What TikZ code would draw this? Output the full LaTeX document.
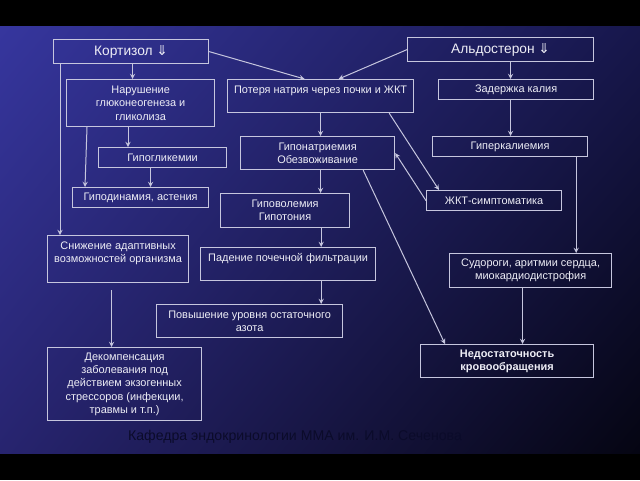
\documentclass[tikz,border=0pt]{standalone}
\usepackage{fontspec}
\setmainfont{Liberation Sans}
\newfontfamily\symfont{DejaVu Sans}
\usepackage{xcolor}
\usetikzlibrary{shapes,arrows,positioning,shadings}

\newdimen\pxu \pxu=0.75pt
\newcommand{\dnarr}{{\symfont\char"21D3}}
\definecolor{boxline}{HTML}{C6C6DE}
\definecolor{boxtext}{HTML}{EEEEF6}
\definecolor{deptcol}{HTML}{0B0B2A}
\definecolor{bgul}{HTML}{36369E}
\definecolor{bgur}{HTML}{17174C}
\definecolor{bgll}{HTML}{27246F}
\definecolor{bglr}{HTML}{050512}

\begin{document}
\begin{tikzpicture}[
    x=0.75pt, y=-0.75pt,
    box/.style={rectangle, draw=boxline, line width=0.9pt, anchor=north west, align=center,
                inner sep=1pt, text=boxtext, font=\fontsize{8.2}{10}\selectfont},
    head/.style={box, font=\fontsize{10.3}{12}\selectfont},
    arrow/.style={->, >=stealth, draw=boxline, line width=0.75pt},
    dept/.style={text=deptcol, font=\fontsize{10.6}{12}\selectfont}
]
    \useasboundingbox (0,0) rectangle (640,480);
    \fill[black] (0,0) rectangle (640,480);
    \shade[upper left=bgul, upper right=bgur, lower left=bgll, lower right=bglr] (0,26) rectangle (640,453);

    % hormones
    \node[head, minimum width=155\pxu, minimum height=24\pxu] (kort) at (53,39) {Кортизол \dnarr};
    \node[head, minimum width=186\pxu, minimum height=24\pxu] (aldo) at (407,37) {Альдостерон \dnarr};

    \node[box, minimum width=148\pxu, minimum height=47\pxu] (nar) at (66,79) {Нарушение\\глюконеогенеза и\\гликолиза};
    \node[box, minimum width=186\pxu, minimum height=33\pxu] (loss) at (227,79) {Потеря натрия через почки и ЖКТ\\ \mbox{}};
    \node[box, minimum width=155\pxu, minimum height=20\pxu] (kal) at (438,79) {Задержка калия};
    \node[box, minimum width=128\pxu, minimum height=20\pxu] (gipogl) at (98,147) {Гипогликемии};
    \node[box, minimum width=154\pxu, minimum height=33\pxu] (natr) at (240,136) {Гипонатриемия\\Обезвоживание};
    \node[box, minimum width=155\pxu, minimum height=20\pxu] (hyperk) at (432,136) {Гиперкалиемия};
    \node[box, minimum width=136\pxu, minimum height=20\pxu] (gipodin) at (72,187) {Гиподинамия, астения};
    \node[box, minimum width=129\pxu, minimum height=34\pxu] (vol) at (220,193) {Гиповолемия\\Гипотония};
    \node[box, minimum width=135\pxu, minimum height=20\pxu] (zkt) at (426,190) {ЖКТ-симптоматика};
    \node[box, minimum width=141\pxu, minimum height=47\pxu] (snizh) at (47,235) {Снижение адаптивных\\возможностей организма\\ \mbox{}};
    \node[box, minimum width=175\pxu, minimum height=33\pxu] (pad) at (200,247) {Падение почечной фильтрации\\ \mbox{}};
    \node[box, minimum width=162\pxu, minimum height=34\pxu] (sudor) at (449,253) {Судороги, аритмии сердца,\\миокардиодистрофия};
    \node[box, minimum width=186\pxu, minimum height=33\pxu] (povysh) at (156,304) {Повышение уровня остаточного\\азота};
    \node[box, minimum width=154\pxu, minimum height=73\pxu] (dekomp) at (47,347) {Декомпенсация\\заболевания под\\действием экзогенных\\стрессоров (инфекции,\\травмы и т.п.)};
    \node[box, minimum width=173\pxu, minimum height=33\pxu, font=\fontsize{8.2}{10}\selectfont\bfseries] (nedost) at (420,344) {Недостаточность\\кровообращения};

    \node[dept] (kaf) at (295,437) {Кафедра эндокринологии ММА им. И.М. Сеченова};

    % cortisol branch
    \draw[arrow] (kort.east) -- ([xshift=-16\pxu]loss.north);
    \draw[arrow] ([xshift=1.5\pxu]kort.south) -- ([xshift=1.5\pxu]kort.south |- nar.north);
    \draw[arrow] ([xshift=7\pxu]kort.south west) -- ([xshift=7\pxu]kort.south west |- snizh.north);
    \draw[arrow] ([xshift=62\pxu]nar.south west) -- ([xshift=62\pxu]nar.south west |- gipogl.north);
    \draw[arrow] ([xshift=21\pxu]nar.south west) -- ([xshift=13\pxu]gipodin.north west);
    \draw[arrow] ([xshift=-12\pxu]gipogl.south) -- ([xshift=-12\pxu]gipogl.south |- gipodin.north);
    \draw[arrow, shorten <=7\pxu] ([xshift=-6.5\pxu]snizh.south) -- ([xshift=-6.5\pxu]snizh.south |- dekomp.north);

    % sodium branch
    \draw[arrow] (aldo.west) -- ([xshift=18\pxu]loss.north);
    \draw[arrow] (loss.south) -- (loss.south |- natr.north);
    \draw[arrow] ([xshift=-25\pxu]loss.south east) -- ([xshift=13\pxu]zkt.north west);
    \draw[arrow] (zkt.west) -- (natr.east);
    \draw[arrow] ([xshift=3\pxu]natr.south) -- ([xshift=3\pxu]natr.south |- vol.north);
    \draw[arrow] ([xshift=-32\pxu]natr.south east) -- ([xshift=25\pxu]nedost.north west);
    \draw[arrow] ([xshift=-29\pxu]vol.south east) -- ([xshift=-29\pxu]vol.south east |- pad.north);
    \draw[arrow] ([xshift=-55\pxu]pad.south east) -- ([xshift=-55\pxu]pad.south east |- povysh.north);

    % potassium branch
    \draw[arrow] ([xshift=10\pxu]aldo.south) -- ([xshift=10\pxu]aldo.south |- kal.north);
    \draw[arrow] ([xshift=-5.5\pxu]kal.south) -- ([xshift=-5.5\pxu]kal.south |- hyperk.north);
    \draw[arrow] ([xshift=-12\pxu]hyperk.south east) -- ([xshift=-12\pxu]hyperk.south east |- sudor.north);
    \draw[arrow] ([xshift=-8\pxu]sudor.south) -- ([xshift=-8\pxu]sudor.south |- nedost.north);
\end{tikzpicture}
\end{document}
